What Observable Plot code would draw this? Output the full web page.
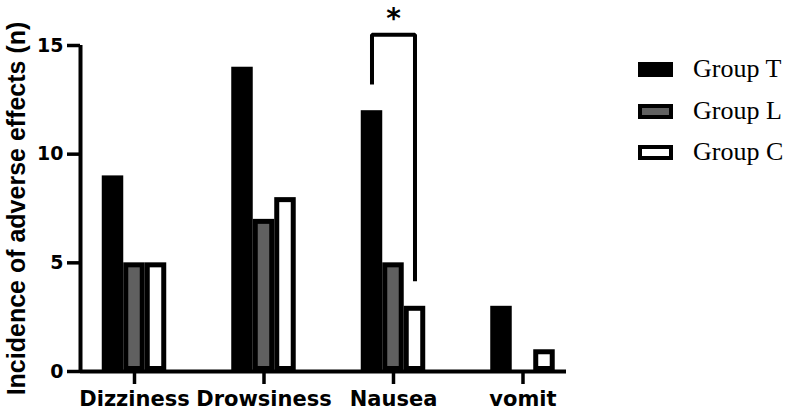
<!DOCTYPE html>
<html><head><meta charset="utf-8">
<script src="https://cdn.jsdelivr.net/npm/d3@7"></script>
<script src="https://cdn.jsdelivr.net/npm/@observablehq/plot@0.6"></script>
<style>
body{margin:0;background:#fff;}
#wrap{position:relative;width:786px;height:412px;}
#legend{position:absolute;left:638px;top:48px;font-family:"Liberation Serif",serif;font-size:26px;line-height:41.5px;color:#000;white-space:nowrap;}
.sw{display:inline-block;width:35px;height:15px;box-sizing:border-box;border:4px solid #000;margin-right:20px;}
</style></head><body><div id="wrap"><div id="legend"></div></div>
<script>
const categories = ["Dizziness", "Drowsiness", "Nausea", "vomit"];
const groups = ["Group T", "Group L", "Group C"];
const groupT = [9, 14, 12, 3];
const groupL = [5, 7, 5, 0];
const groupC = [5, 8, 3, 1];
const groupFills = ["#000000", "#606060", "#ffffff"];
const yTicks = [0, 5, 10, 15];
const yTitle = "Incidence of adverse effects (n)";
// significance bracket (Nausea: Group T vs Group C)
const sigCategory = "Nausea";
const sigGroups = ["Group T", "Group T", "Group C", "Group C"];
const sigY = [13.2, 15.5, 15.5, 4.15];
const sigMark = "*";
const sigMarkY = 16.2;

const series = [groupT, groupL, groupC];
const barW = 0.166;
const xCenter = (cat, grp) => categories.indexOf(cat) + (groups.indexOf(grp) - 1) * barW;

const rows = [];
categories.forEach((c, i) => groups.forEach((g, j) => rows.push({category: c, group: g, value: series[j][i]})));
const bracket = sigGroups.map((g, k) => ({x: xCenter(sigCategory, g), y: sigY[k]}));

const chart = Plot.plot({
  width: 786,
  height: 412,
  marginLeft: 80,
  marginRight: 220,
  marginTop: 45,
  marginBottom: 41,
  style: {fontFamily: "'DejaVu Sans', sans-serif", color: "#000", background: "#fff", overflow: "visible"},
  x: {domain: [-0.417, 3.336]},
  y: {domain: [d3.min(yTicks), d3.max(yTicks)]},
  color: {domain: groups, range: groupFills},
  marks: [
    Plot.rect(rows.filter(d => d.value > 0), {
      x1: d => xCenter(d.category, d.group) - barW / 2,
      x2: d => xCenter(d.category, d.group) + barW / 2,
      y1: 0,
      y2: "value",
      fill: "group",
      stroke: "#000",
      strokeWidth: 5,
      inset: 2.5
    }),
    Plot.ruleY([0], {strokeWidth: 4}),
    Plot.ruleX([-0.417], {y1: d3.min(yTicks), y2: d3.max(yTicks), strokeWidth: 4}),
    Plot.axisY({ticks: yTicks, tickSize: 13, tickPadding: 4, fontSize: 19, fontWeight: "bold", strokeWidth: 3.5, label: null}),
    Plot.axisX({ticks: d3.range(categories.length), tickFormat: i => categories[i], tickSize: 13, tickPadding: 7, fontSize: 21, fontWeight: "bold", strokeWidth: 3.5, label: null}),
    Plot.text([yTitle], {frameAnchor: "left", rotate: -90, dx: -64, text: d => d, textAnchor: "middle", fontSize: 25, fontWeight: "bold", fontFamily: "'Liberation Sans', Arial, sans-serif", lineAnchor: "middle"}),
    Plot.line(bracket, {x: "x", y: "y", stroke: "#000", strokeWidth: 4, strokeLinejoin: "miter", strokeLinecap: "butt"}),
    Plot.text([sigMark], {x: categories.indexOf(sigCategory), y: sigMarkY, text: d => d, fontSize: 28, fontWeight: "bold", lineAnchor: "middle"})
  ]
});
document.getElementById("wrap").prepend(chart);

const legend = document.getElementById("legend");
groups.forEach((g, j) => {
  const row = document.createElement("div");
  const sw = document.createElement("span");
  sw.className = "sw";
  sw.style.background = groupFills[j];
  row.appendChild(sw);
  row.appendChild(document.createTextNode(g));
  legend.appendChild(row);
});
</script>
</body></html>
